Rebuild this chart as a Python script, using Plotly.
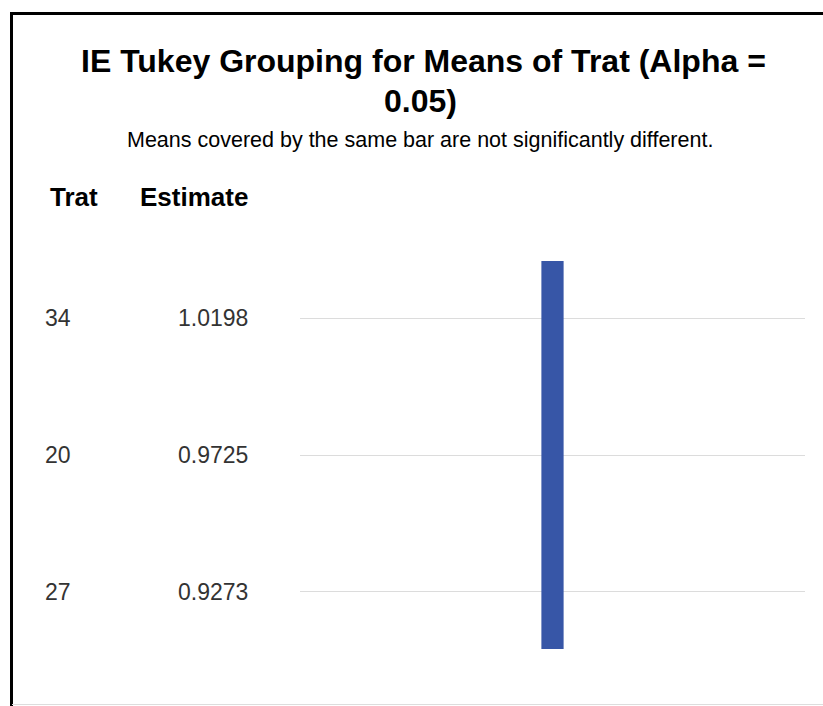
import plotly.graph_objects as go

# ---- data ----
trat = ["34", "20", "27"]
estimates = ["1.0198", "0.9725", "0.9273"]
groups = [[0, 1, 2]]          # rows covered by the same Tukey bar
title_lines = ["IE Tukey Grouping for Means of Trat (Alpha =", "0.05)"]
subtitle_text = "Means covered by the same bar are not significantly different."
col_headers = ["Trat", "Estimate"]

W, H = 823, 706
L, R, T, B = 300, 18, 250, 46
pw, ph = W - L - R, H - T - B

def px_x(px):
    return (px - L) / pw

def px_y(py):
    return (H - B - py) / ph

FONT = "Liberation Sans, Arial, sans-serif"
BAR_COLOR = "#3756a7"
ext = 0.42

fig = go.Figure()
for g in groups:
    fig.add_trace(go.Bar(
        x=[0.5], y=[max(g) - min(g) + 2 * ext], base=[min(g) - ext],
        width=0.044, marker=dict(color=BAR_COLOR, line=dict(width=0)),
        hoverinfo="skip", showlegend=False,
    ))

annotations = []
# title lines / subtitle
annotations.append(dict(text="<b>" + title_lines[0] + "</b>", x=px_x(423), y=px_y(61),
                        xref="paper", yref="paper", showarrow=False, xanchor="center", yanchor="middle",
                        font=dict(family=FONT, size=32, color="#000")))
annotations.append(dict(text="<b>" + title_lines[1] + "</b>", x=px_x(420), y=px_y(101),
                        xref="paper", yref="paper", showarrow=False, xanchor="center", yanchor="middle",
                        font=dict(family=FONT, size=32, color="#000")))
annotations.append(dict(text=subtitle_text, x=px_x(420), y=px_y(140),
                        xref="paper", yref="paper", showarrow=False, xanchor="center", yanchor="middle",
                        font=dict(family=FONT, size=21.5, color="#000")))
# column headers
annotations.append(dict(text="<b>" + col_headers[0] + "</b>", x=px_x(48), y=px_y(197),
                        xref="paper", yref="paper", showarrow=False, xanchor="left", yanchor="middle",
                        font=dict(family=FONT, size=26, color="#000")))
annotations.append(dict(text="<b>" + col_headers[1] + "</b>", x=px_x(250), y=px_y(197),
                        xref="paper", yref="paper", showarrow=False, xanchor="right", yanchor="middle",
                        font=dict(family=FONT, size=26, color="#000")))
# rows
for i, (t, e) in enumerate(zip(trat, estimates)):
    annotations.append(dict(text=t, x=px_x(43), y=i, xref="paper", yref="y", showarrow=False,
                            xanchor="left", yanchor="middle",
                            font=dict(family=FONT, size=23, color="#333")))
    annotations.append(dict(text=e, x=px_x(250), y=i, xref="paper", yref="y", showarrow=False,
                            xanchor="right", yanchor="middle",
                            font=dict(family=FONT, size=23, color="#333")))

shapes = [
    dict(type="line", xref="paper", yref="paper", x0=px_x(11.5), x1=px_x(W + 5), y0=px_y(13.5), y1=px_y(13.5),
         line=dict(color="#000", width=3)),
    dict(type="line", xref="paper", yref="paper", x0=px_x(11.5), x1=px_x(11.5), y0=px_y(12), y1=px_y(H + 5),
         line=dict(color="#000", width=3)),
    dict(type="line", xref="paper", yref="paper", x0=px_x(12), x1=px_x(W + 5), y0=px_y(704.5), y1=px_y(704.5),
         line=dict(color="#dddddd", width=1)),
]

fig.update_layout(
    width=W, height=H, margin=dict(l=L, r=R, t=T, b=B),
    paper_bgcolor="white", plot_bgcolor="white",
    xaxis=dict(range=[0, 1], showgrid=False, zeroline=False, showticklabels=False, fixedrange=True),
    yaxis=dict(range=[len(trat) - 0.5, -0.5], tickvals=list(range(len(trat))), showticklabels=False,
               showgrid=True, gridcolor="#dcdcdc", gridwidth=1, zeroline=False, fixedrange=True),
    annotations=annotations, shapes=shapes, showlegend=False,
)

fig.write_html("out.html")
